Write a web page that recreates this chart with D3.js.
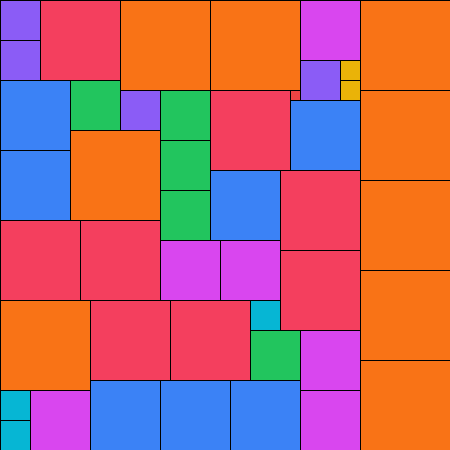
<!DOCTYPE html>
<html lang="en">
<head>
	<meta charset="UTF-8">
	<title>Square packing</title>
	<style>
		body { margin: 0; background: #fff; }
	</style>
</head>
<body>
	<svg width="450" height="450"></svg>
	<script src="https://cdn.jsdelivr.net/npm/d3@7"></script>
	<script>
		// grid units (45 x 45); each square: column, row, side
		var cols  = [0,0,4,12,21,30,36,30,34,34,36,0,7,12,16,21,29,29,7,0,16,16,21,28,36,0,8,16,22,28,36,0,9,17,25,25,30,36,0,0,3,9,16,23,30];
		var rows  = [0,4,0,0,0,0,0,6,6,8,9,8,8,9,9,9,9,10,13,15,14,19,17,17,18,22,22,24,24,25,27,30,30,30,30,33,33,36,39,42,39,38,38,38,39];
		var sides = [4,4,8,9,9,6,9,4,2,2,9,7,5,4,5,8,1,7,9,7,5,5,7,8,9,8,8,6,6,8,9,9,8,8,3,5,6,9,3,3,6,7,7,7,6];

		var sizeColors = ["#ef4444","#eab308","#06b6d4","#8b5cf6","#22c55e","#d946ef","#3b82f6","#f43f5e","#f97316"];

		var svg = d3.select("svg");
		var width = +svg.attr("width");
		var height = +svg.attr("height");

		var x = d3.scaleLinear().domain([0, 45]).range([0, width]);
		var y = d3.scaleLinear().domain([0, 45]).range([0, height]);
		var color = d3.scaleOrdinal().domain(d3.range(1, 10)).range(sizeColors);

		var data = sides.map(function (s, i) {
			return { c: cols[i], r: rows[i], s: s };
		});

		svg.selectAll("rect")
			.data(data)
			.enter().append("rect")
			.attr("x", function (d) { return x(d.c) + 0.5; })
			.attr("y", function (d) { return y(d.r) + 0.5; })
			.attr("width", function (d) { return x(d.s) - x(0); })
			.attr("height", function (d) { return y(d.s) - y(0); })
			.attr("fill", function (d) { return color(d.s); })
			.attr("stroke", "#000")
			.attr("stroke-width", 1);
	</script>
</body>
</html>
